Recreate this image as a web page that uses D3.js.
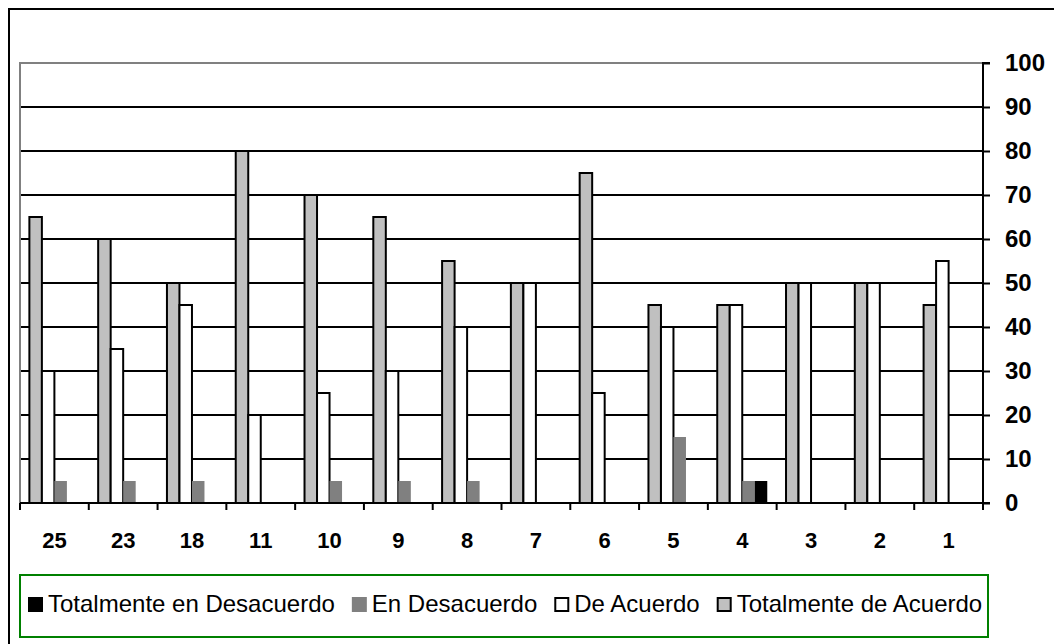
<!DOCTYPE html>
<html>
<head>
<meta charset="utf-8">
<script src="https://cdn.jsdelivr.net/npm/d3@7"></script>
<style>
  body { margin: 0; background: #fff; }
  svg { display: block; font-family: Arial, "Liberation Sans", sans-serif; }
</style>
</head>
<body>
<div id="chart"></div>
<script>
// data
var categories = ["25", "23", "18", "11", "10", "9", "8", "7", "6", "5", "4", "3", "2", "1"];
var totalAcuerdo = [65, 60, 50, 80, 70, 65, 55, 50, 75, 45, 45, 50, 50, 45];
var deAcuerdo    = [30, 35, 45, 20, 25, 30, 40, 50, 25, 40, 45, 50, 50, 55];
var enDesacuerdo = [5, 5, 5, 0, 5, 5, 5, 0, 0, 15, 5, 0, 0, 0];
var totalDesacuerdo = [0, 0, 0, 0, 0, 0, 0, 0, 0, 0, 5, 0, 0, 0];
var yTicks = [0, 10, 20, 30, 40, 50, 60, 70, 80, 90, 100];

// bar order inside a group (left to right) and legend order
var series = [
  {name: "Totalmente de Acuerdo", values: totalAcuerdo, fill: "#c0c0c0", stroke: "#000"},
  {name: "De Acuerdo", values: deAcuerdo, fill: "#fff", stroke: "#000"},
  {name: "En Desacuerdo", values: enDesacuerdo, fill: "#808080", stroke: "none"},
  {name: "Totalmente en Desacuerdo", values: totalDesacuerdo, fill: "#000", stroke: "none"}
];
var legendOrder = [3, 2, 1, 0];

var w = 1054, h = 644;
var plotLeft = 20, plotRight = 983, plotTop = 63, plotBottom = 503;

var svg = d3.select("#chart").append("svg")
  .attr("width", w)
  .attr("height", h);

// outer frame
svg.append("path")
  .attr("d", "M9,644L9,9L1054,9")
  .attr("fill", "none")
  .attr("stroke", "#000")
  .attr("stroke-width", 2);

var x0 = d3.scaleBand().domain(categories).range([plotLeft, plotRight]);
var step = x0.step();
var groupW = step * 4 / 5.5;
var x1 = d3.scaleBand().domain(d3.range(series.length)).range([0, groupW]);
var y = d3.scaleLinear().domain([0, 100]).range([plotBottom, plotTop]);

// gridlines
svg.append("g")
  .selectAll("line")
  .data(yTicks.filter(function(t){ return t > 0 && t < 100; }))
  .enter().append("line")
  .attr("x1", plotLeft).attr("x2", plotRight)
  .attr("y1", function(d){ return y(d); })
  .attr("y2", function(d){ return y(d); })
  .attr("stroke", "#000")
  .attr("stroke-width", 2);

// plot area border, top and left in gray
svg.append("path")
  .attr("d", "M" + plotLeft + "," + plotBottom + "L" + plotLeft + "," + y(100) + "L" + plotRight + "," + y(100))
  .attr("fill", "none")
  .attr("stroke", "#808080")
  .attr("stroke-width", 2);

// bars
var groups = svg.append("g")
  .selectAll("g")
  .data(categories)
  .enter().append("g")
  .attr("transform", function(d){ return "translate(" + (x0(d) + (step - groupW) / 2) + ",0)"; });

groups.selectAll("rect")
  .data(function(d, i){
    return series.map(function(s, j){ return {j: j, v: s.values[i], s: s}; })
      .filter(function(b){ return b.v > 0; });
  })
  .enter().append("rect")
  .attr("x", function(b){ return x1(b.j); })
  .attr("width", x1.bandwidth())
  .attr("y", function(b){ return y(b.v); })
  .attr("height", function(b){ return y(0) - y(b.v); })
  .attr("fill", function(b){ return b.s.fill; })
  .attr("stroke", function(b){ return b.s.stroke; })
  .attr("stroke-width", 2);

// right axis
var yAxis = d3.axisRight(y).tickValues(yTicks).tickSize(7).tickPadding(15);
var ya = svg.append("g")
  .attr("transform", "translate(" + plotRight + ",0)")
  .call(yAxis);
ya.select(".domain").attr("d", "M7," + y(100) + "H0V" + y(0) + "H7").attr("stroke-width", 2);
ya.selectAll(".tick line").attr("stroke-width", 2);
ya.selectAll("text")
  .attr("font-size", 24)
  .attr("font-weight", "bold")
  .attr("font-family", "Arial, 'Liberation Sans', sans-serif")
  .attr("fill", "#000");

// bottom axis, ticks between categories
svg.append("line")
  .attr("x1", plotLeft).attr("x2", plotRight + 1)
  .attr("y1", plotBottom).attr("y2", plotBottom)
  .attr("stroke", "#000").attr("stroke-width", 2);
svg.append("g")
  .selectAll("line")
  .data(categories.concat([null]))
  .enter().append("line")
  .attr("x1", function(d, i){ return plotLeft + i * step; })
  .attr("x2", function(d, i){ return plotLeft + i * step; })
  .attr("y1", plotBottom).attr("y2", plotBottom + 7)
  .attr("stroke", "#000").attr("stroke-width", 2);
svg.append("g")
  .selectAll("text")
  .data(categories)
  .enter().append("text")
  .attr("x", function(d){ return x0(d) + step / 2; })
  .attr("y", 548)
  .attr("text-anchor", "middle")
  .attr("font-size", 22)
  .attr("font-weight", "bold")
  .text(function(d){ return d; });

// legend
svg.append("rect")
  .attr("x", 20).attr("y", 575)
  .attr("width", 968).attr("height", 62)
  .attr("fill", "#fff")
  .attr("stroke", "#008000")
  .attr("stroke-width", 2);

var lx = 28;
legendOrder.forEach(function(k){
  var s = series[k];
  var hasBorder = s.stroke !== "none";
  svg.append("rect")
    .attr("x", lx + (hasBorder ? 1 : 0)).attr("y", 597 + (hasBorder ? 1 : 0))
    .attr("width", hasBorder ? 13 : 15).attr("height", hasBorder ? 13 : 15)
    .attr("fill", s.fill)
    .attr("stroke", s.stroke)
    .attr("stroke-width", 2);
  var t = svg.append("text")
    .attr("x", lx + 20)
    .attr("y", 612)
    .attr("font-size", 24)
    .text(s.name);
  lx += 20 + t.node().getComputedTextLength() + 17;
});
</script>
</body>
</html>
